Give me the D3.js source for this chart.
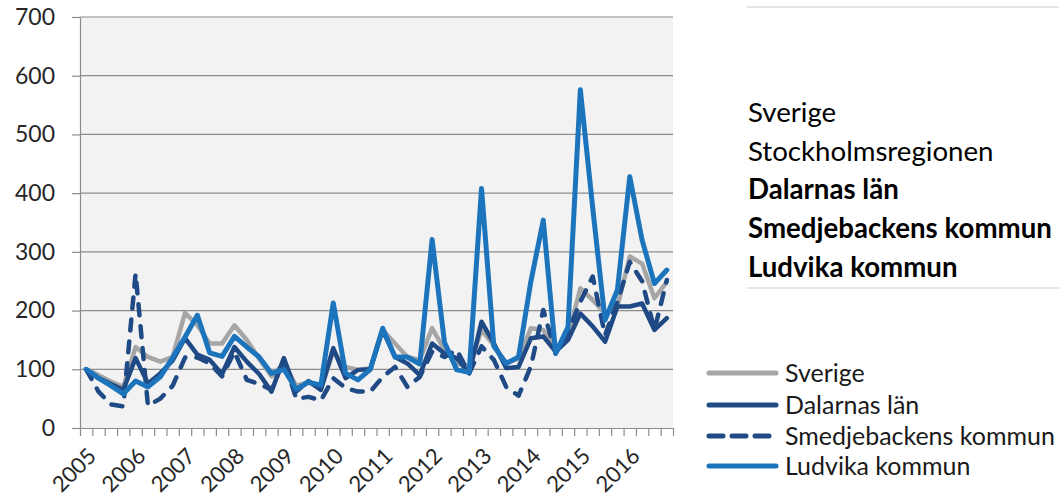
<html>
<head>
<title>Index</title>
<script src="https://d3js.org/d3.v7.min.js"></script>
<style>
  body { margin: 0; background: #fff; }
  text { font-family: Lato, "Open Sans", sans-serif; }
</style>
</head>
<body>
<svg width="1059" height="501"></svg>
<script>
// values, one per quarter 2005 K1 .. 2016 K4
var years = ["2005", "2006", "2007", "2008", "2009", "2010", "2011", "2012", "2013", "2014", "2015", "2016"];
var yTicks = [0, 100, 200, 300, 400, 500, 600, 700];

var sverige = [100, 90, 79, 70, 138, 121, 113, 121, 196, 175, 144, 144,
               175, 150, 118, 88, 110, 72, 78, 66, 130, 104, 99, 102,
               167, 144, 121, 116, 170, 133, 110, 104, 167, 141, 110, 119,
               170, 167, 136, 156, 238, 218, 195, 207, 292, 280, 221, 249];
var dalarna = [100, 85, 75, 65, 119, 76, 93, 115, 153, 125, 116, 92,
               138, 113, 92, 62, 119, 62, 80, 65, 136, 85, 99, 100,
               167, 121, 110, 90, 144, 127, 119, 93, 181, 144, 102, 104,
               153, 156, 130, 150, 195, 173, 147, 207, 207, 212, 167, 187];
var smedjebacken = [100, 62, 40, 37, 263, 38, 50, 72, 120, 120, 110, 88,
               130, 82, 75, 65, 116, 50, 53, 47, 85, 68, 62, 62,
               87, 104, 70, 87, 130, 121, 133, 93, 139, 116, 70, 55,
               105, 201, 127, 163, 215, 258, 158, 215, 283, 250, 167, 252];
var ludvika = [100, 85, 72, 58, 80, 70, 87, 120, 155, 192, 128, 122,
               156, 138, 121, 93, 100, 66, 78, 73, 213, 93, 82, 100,
               170, 121, 121, 109, 321, 146, 99, 95, 408, 139, 110, 121,
               250, 354, 127, 172, 576, 375, 184, 235, 428, 320, 246, 269];

var seriesNames = ["Sverige", "Dalarnas län", "Smedjebackens kommun", "Ludvika kommun"];
var boxLabels = ["Sverige", "Stockholmsregionen", "Dalarnas län", "Smedjebackens kommun", "Ludvika kommun"];
var boxBold = [false, false, true, true, true];

var svg = d3.select("svg");
var plotLeft = 80, plotRight = 673, plotTop = 17, plotBottom = 428;
var nCat = years.length * 4;

var x = d3.scaleLinear().domain([0, nCat]).range([plotLeft, plotRight]);
var y = d3.scaleLinear().domain([0, 700]).range([plotBottom, plotTop]);

var gridColor = "#8c8c8c";
var styles = [
    { color: "#a6a6a6", width: 4.5, dash: null },
    { color: "#1f4a85", width: 4.5, dash: null },
    { color: "#1f4a85", width: 4.5, dash: "11,11" },
    { color: "#1c75bc", width: 5, dash: null }
];
var allSeries = [sverige, dalarna, smedjebacken, ludvika];

// plot background
svg.append("rect")
    .attr("x", plotLeft).attr("y", plotTop)
    .attr("width", plotRight - plotLeft).attr("height", plotBottom - plotTop)
    .attr("fill", "#f2f2f2");

// gridlines
svg.append("g").selectAll("line")
    .data(yTicks.slice(1))
    .enter().append("line")
    .attr("x1", plotLeft).attr("x2", plotRight)
    .attr("y1", d => y(d)).attr("y2", d => y(d))
    .attr("stroke", gridColor).attr("stroke-width", 1.2);

// y axis
var yAxis = svg.append("g")
    .attr("transform", "translate(" + plotLeft + ",0)")
    .call(d3.axisLeft(y).tickValues(yTicks).tickSize(8).tickSizeOuter(0).tickPadding(17));
yAxis.selectAll("line, path").attr("stroke", gridColor).attr("stroke-width", 1.2);
yAxis.selectAll("text").attr("font-size", 23).attr("fill", "#262626").attr("font-family", "Lato");

// x axis, ticks between quarters
var xAxis = svg.append("g")
    .attr("transform", "translate(0," + plotBottom + ")")
    .call(d3.axisBottom(x).tickValues(d3.range(nCat + 1)).tickSize(8).tickSizeOuter(0).tickFormat(""));
xAxis.selectAll("line, path").attr("stroke", gridColor).attr("stroke-width", 1.2);

svg.append("g").selectAll("text")
    .data(years)
    .enter().append("text")
    .attr("transform", (d, i) => "translate(" + (x(i * 4 + 0.5) + 6) + "," + (plotBottom + 24) + ") rotate(-45)")
    .attr("text-anchor", "end")
    .attr("dy", "0.35em")
    .attr("font-size", 22)
    .attr("fill", "#262626")
    .text(d => d);

// lines
var line = d3.line()
    .x((d, i) => x(i + 0.5))
    .y(d => y(d));

svg.append("g").selectAll("path")
    .data(allSeries)
    .enter().append("path")
    .attr("d", d => line(d))
    .attr("fill", "none")
    .attr("stroke", (d, i) => styles[i].color)
    .attr("stroke-width", (d, i) => styles[i].width)
    .attr("stroke-dasharray", (d, i) => styles[i].dash)
    .attr("stroke-linejoin", "round")
    .attr("stroke-linecap", "round");

// fit a text group so its longest item gets the wanted width
function fitFont(sel, longest, target) {
    var w = sel.filter(d => d == longest).node().getComputedTextLength();
    var fs = parseFloat(sel.attr("font-size"));
    sel.attr("font-size", fs * target / w);
}

// legend at the bottom right
var leg = svg.append("g");
var legY = [373, 405, 436, 466];
leg.selectAll("line")
    .data(seriesNames)
    .enter().append("line")
    .attr("x1", 709).attr("x2", 776)
    .attr("y1", (d, i) => legY[i]).attr("y2", (d, i) => legY[i])
    .attr("stroke", (d, i) => styles[i].color)
    .attr("stroke-width", 5)
    .attr("stroke-dasharray", (d, i) => styles[i].dash ? "14,9" : null)
    .attr("stroke-linecap", "round");
var legText = leg.selectAll("text")
    .data(seriesNames)
    .enter().append("text")
    .attr("x", 785)
    .attr("y", (d, i) => legY[i])
    .attr("dy", "0.35em")
    .attr("font-size", 22)
    .attr("fill", "#1a1a1a")
    .text(d => d);
fitFont(legText, "Smedjebackens kommun", 270);

// text box at the top right
var box = svg.append("g");
box.append("line").attr("x1", 747).attr("x2", 1059).attr("y1", 7).attr("y2", 7)
    .attr("stroke", "#e4e4e4").attr("stroke-width", 2);
box.append("line").attr("x1", 747).attr("x2", 1059).attr("y1", 288).attr("y2", 288)
    .attr("stroke", "#e4e4e4").attr("stroke-width", 2);
var boxText = box.selectAll("text")
    .data(boxLabels)
    .enter().append("text")
    .attr("x", 748)
    .attr("y", (d, i) => 122 + i * 38.7)
    .attr("font-size", 24)
    .attr("font-weight", (d, i) => boxBold[i] ? "bold" : "normal")
    .attr("fill", "#000")
    .text(d => d);
fitFont(boxText, "Smedjebackens kommun", 304);
</script>
</body>
</html>
